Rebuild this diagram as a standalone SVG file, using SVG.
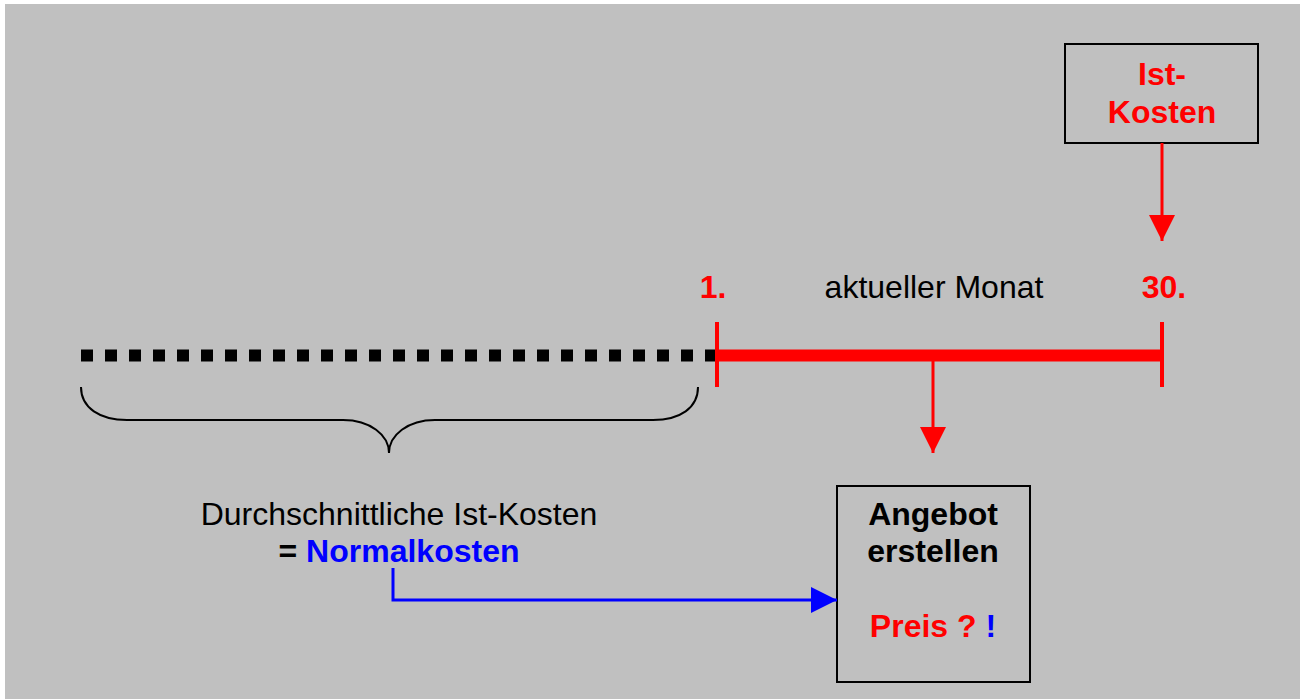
<svg xmlns="http://www.w3.org/2000/svg" width="1300" height="699" viewBox="0 0 1300 699">
<style>
text{font-family:"Liberation Sans",Arial,sans-serif;font-size:32px}
.b{font-weight:bold}
.red{fill:#ff0000}
.blue{fill:#0000ff}
.box{fill:none;stroke:#000;stroke-width:2}
</style>
<defs>
<marker id="ahr" markerUnits="userSpaceOnUse" markerWidth="26" markerHeight="26" refX="26" refY="13" orient="auto"><path d="M0,0 L26,13 L0,26 Z" fill="#ff0000"/></marker>
<marker id="ahb" markerUnits="userSpaceOnUse" markerWidth="26" markerHeight="26" refX="26" refY="13" orient="auto"><path d="M0,0 L26,13 L0,26 Z" fill="#0000ff"/></marker>
</defs>
<rect x="0" y="0" width="1300" height="699" fill="#ffffff"/>
<rect x="5" y="4" width="1295" height="695" fill="#c0c0c0"/>
<g id="timeline">
<line x1="81" y1="355.5" x2="717" y2="355.5" stroke="#000" stroke-width="12" stroke-dasharray="12 12"/>
<line x1="717" y1="355.5" x2="1162" y2="355.5" stroke="#ff0000" stroke-width="12"/>
<line x1="717" y1="322" x2="717" y2="387" stroke="#ff0000" stroke-width="4"/>
<line x1="1162" y1="322" x2="1162" y2="387" stroke="#ff0000" stroke-width="4"/>
<text x="713" y="298" text-anchor="middle" class="b red">1.</text>
<text x="1164" y="298" text-anchor="middle" class="b red">30.</text>
<text x="934" y="298" text-anchor="middle">aktueller Monat</text>
</g>
<g id="brace">
<path d="M81,387 C81,408 100,420 127,420 L343,420 C370,420 389,435 389,453 C389,435 408,420 435,420 L653,420 C680,420 698,408 698,387" fill="none" stroke="#000" stroke-width="2"/>
</g>
<g id="normalkosten">
<text x="399" y="525" text-anchor="middle">Durchschnittliche Ist-Kosten</text>
<text x="399" y="562" text-anchor="middle" class="b"><tspan>= </tspan><tspan class="blue">Normalkosten</tspan></text>
</g>
<g id="istkosten">
<rect x="1065" y="44" width="193" height="99" class="box"/>
<text x="1162" y="85" text-anchor="middle" class="b red">Ist-</text>
<text x="1162" y="123" text-anchor="middle" class="b red">Kosten</text>
</g>
<g id="angebot">
<rect x="837" y="486" width="193" height="196" class="box"/>
<text x="933" y="525" text-anchor="middle" class="b">Angebot</text>
<text x="933" y="562" text-anchor="middle" class="b">erstellen</text>
<text x="933" y="637" text-anchor="middle" class="b"><tspan class="red">Preis ? </tspan><tspan class="blue">!</tspan></text>
</g>
<g id="connectors">
<line x1="1162" y1="143" x2="1162" y2="241" stroke="#ff0000" stroke-width="3" marker-end="url(#ahr)"/>
<line x1="933" y1="361" x2="933" y2="453" stroke="#ff0000" stroke-width="3" marker-end="url(#ahr)"/>
<polyline points="393,568 393,600 837,600" fill="none" stroke="#0000ff" stroke-width="3" marker-end="url(#ahb)"/>
</g>
</svg>
